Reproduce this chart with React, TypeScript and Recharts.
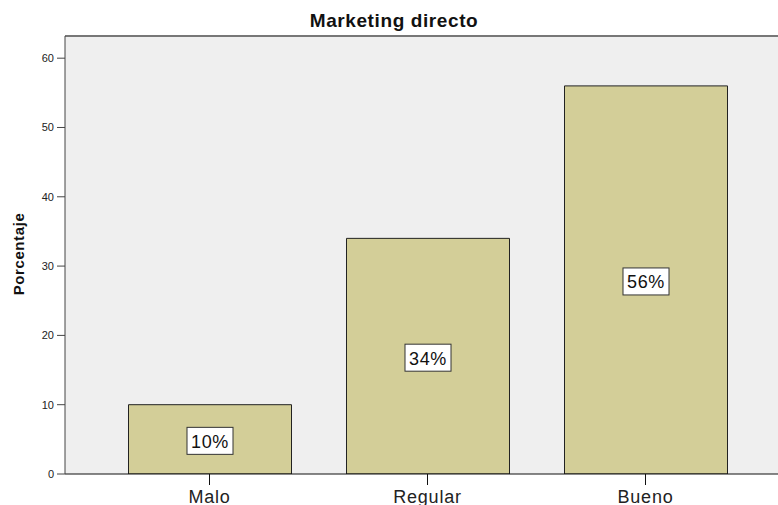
import React from "react";
import { Bar, BarChart, CartesianGrid, LabelList, ReferenceLine, XAxis, YAxis } from "recharts";

const categories = ["Malo", "Regular", "Bueno"];
const percentages = [10, 34, 56];
const yTicks = [0, 10, 20, 30, 40, 50, 60];
const Y_MAX = 63.2;

const FONT = "'Liberation Sans', Arial, sans-serif";

function PctLabel(props: any) {
  const { x, y, width, height, value } = props;
  const cx = x + width / 2;
  const cy = y + height / 2 + 1.5;
  const w = 46;
  const h = 27;
  return (
    <g>
      <rect x={cx - w / 2} y={cy - h / 2} width={w} height={h} fill="#fff" stroke="#333" strokeWidth={1} />
      <text x={cx} y={cy + 7} textAnchor="middle" fontSize={18} letterSpacing={0.6} fontFamily={FONT} fill="#111">
        {value + "%"}
      </text>
    </g>
  );
}

export default function App() {
  const data = categories.map((c, i) => ({ name: c, pct: percentages[i] }));
  return (
    <div style={{ position: "fixed", left: 0, top: 0, width: 778, height: 505, overflow: "hidden", background: "#fff", fontFamily: FONT }}>
      <BarChart
        width={800}
        height={505}
        data={data}
        margin={{ top: 36, right: 8, left: 0, bottom: 0 }}
        barSize={163}
      >
        <CartesianGrid fill="#efefef" horizontal={false} vertical={false} />
        <ReferenceLine y={Y_MAX} stroke="#777" strokeWidth={2} />
        <XAxis
          dataKey="name"
          height={31}
          padding={{ left: 35.5, right: 37.5 }}
          tickSize={11}
          tickMargin={5}
          tick={{ fontSize: 18, fill: "#222", fontFamily: FONT, letterSpacing: 0.8 }}
          axisLine={{ stroke: "#111" }}
          tickLine={{ stroke: "#111" }}
        />
        <YAxis
          width={65}
          domain={[0, Y_MAX]}
          ticks={yTicks}
          allowDataOverflow
          tickSize={8}
          tickMargin={3}
          tick={{ fontSize: 11, fill: "#222", fontFamily: FONT }}
          axisLine={{ stroke: "#444" }}
          tickLine={{ stroke: "#444" }}
        />
        <Bar dataKey="pct" fill="#d3ce98" stroke="#222" strokeWidth={1} isAnimationActive={false}>
          <LabelList dataKey="pct" content={PctLabel} />
        </Bar>
      </BarChart>
      <div style={{ position: "absolute", left: 0, width: 788, top: 10, textAlign: "center", fontWeight: "bold", fontSize: 19, letterSpacing: 0.6, color: "#111" }}>
        Marketing directo
      </div>
      <div style={{ position: "absolute", left: 18, top: 254, transform: "translate(-50%, -50%) rotate(-90deg)", fontWeight: "bold", fontSize: 15, letterSpacing: 0.6, color: "#111", whiteSpace: "nowrap" }}>
        Porcentaje
      </div>
    </div>
  );
}
